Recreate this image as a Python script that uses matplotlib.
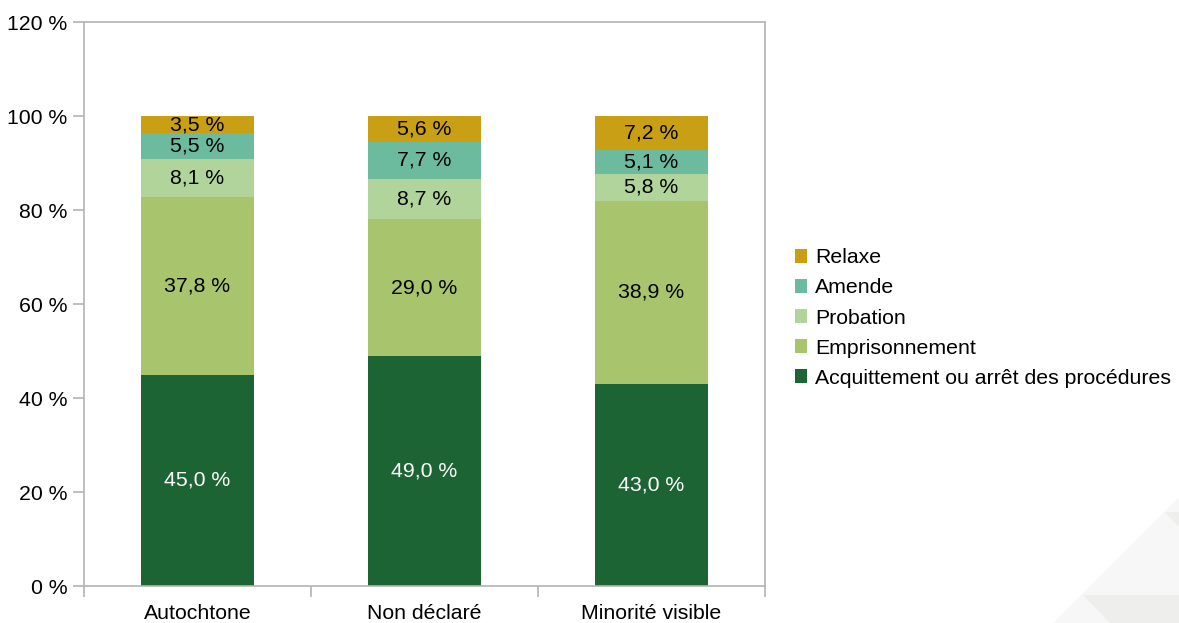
import numpy as np
import matplotlib.pyplot as plt
from matplotlib.patches import Polygon

''' Data '''
categories = ['Autochtone', 'Non déclaré', 'Minorité visible']
series_names = ['Acquittement ou arrêt des procédures', 'Emprisonnement',
                'Probation', 'Amende', 'Relaxe']
acquittement = [45.0, 49.0, 43.0]
emprisonnement = [37.8, 29.0, 38.9]
probation = [8.1, 8.7, 5.8]
amende = [5.5, 7.7, 5.1]
relaxe = [3.5, 5.6, 7.2]
y_ticks = [0, 20, 40, 60, 80, 100, 120]

series = [acquittement, emprisonnement, probation, amende, relaxe]
colors = ['#1d6434', '#a8c46c', '#b1d49a', '#6dbb9e', '#c9a013']
text_colors = ['white', 'black', 'black', 'black', 'black']
FS = 15.3

plt.rcParams['font.family'] = ['Liberation Sans', 'DejaVu Sans']

W, H = 1179, 623
fig = plt.figure(figsize=(W / 100, H / 100), dpi=100)

# faint background triangles, bottom right
for pts, c in [([(1053, 623), (1179, 497), (1179, 623)], '#f7f7f7'),
               ([(1083, 595), (1179, 595), (1179, 623), (1110, 623)], '#eeefec'),
               ([(1165, 512), (1179, 512), (1179, 527)], '#eeefec')]:
    fig.patches.append(Polygon([(x / W, 1 - y / H) for x, y in pts],
                               closed=True, transform=fig.transFigure,
                               facecolor=c, edgecolor='none', zorder=0))

ax = fig.add_axes([84 / W, 1 - 586 / H, (765 - 84) / W, (586 - 22) / H])
ax.patch.set_alpha(0)

x = np.arange(len(categories))
bottom = np.zeros(len(categories))
for vals, name, col, tc in zip(series, series_names, colors, text_colors):
    ax.bar(x, vals, 0.5, bottom=bottom, color=col, label=name, zorder=2)
    for xi, b, v in zip(x, bottom, vals):
        ax.text(xi, b + v / 2, ('%.1f %%' % v).replace('.', ','),
                ha='center', va='center', color=tc, fontsize=FS, zorder=3)
    bottom += np.array(vals)

ax.set_xlim(-0.5, len(categories) - 0.5)
ax.set_ylim(0, 120)
ax.set_yticks(y_ticks)
ax.set_yticklabels(['%d %%' % t for t in y_ticks])
ax.set_xticks(np.arange(len(categories) + 1) - 0.5)
ax.set_xticklabels([])
ax.set_xticks(x, minor=True)
ax.set_xticklabels(categories, minor=True)
ax.tick_params(axis='x', which='minor', length=0, pad=13, labelsize=FS)
ax.tick_params(axis='x', which='major', length=8, color='#b3b3b3', width=1.2)
ax.tick_params(axis='y', length=8, color='#b3b3b3', width=1.2, labelsize=FS, pad=4)
for s in ax.spines.values():
    s.set_color('#b3b3b3')
    s.set_linewidth(1.2)

handles, labels = ax.get_legend_handles_labels()
fig.legend(handles[::-1], labels[::-1], loc='center left',
           bbox_to_anchor=(784 / W, 1 - 318 / H), frameon=False,
           fontsize=FS, handlelength=0.58, handleheight=0.58,
           handletextpad=0.38, labelspacing=0.52, borderpad=0)

fig.savefig('out.png', dpi=100)
